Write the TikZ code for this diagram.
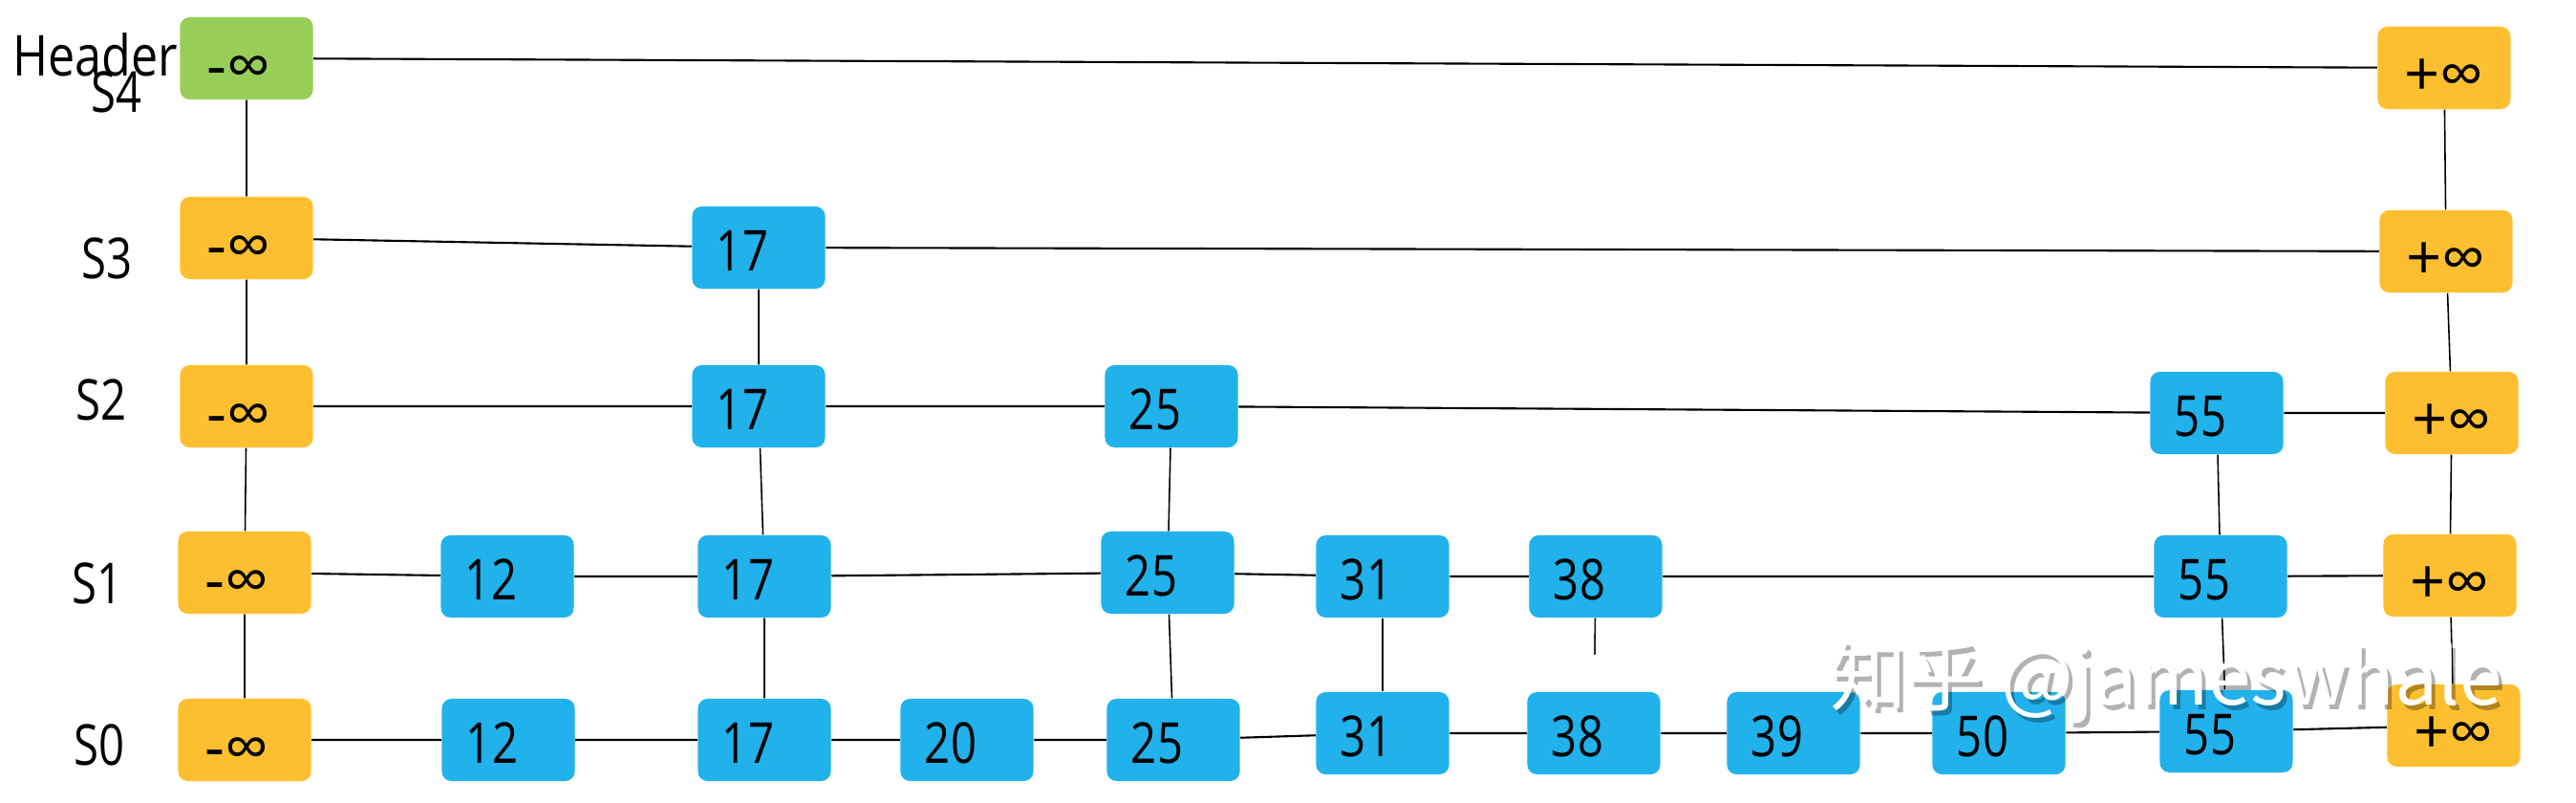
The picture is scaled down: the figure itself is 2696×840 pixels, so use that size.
\documentclass[tikz,border=0pt]{standalone}
\usepackage{fontspec}
\usepackage{graphicx}
\setmainfont{Open Sans}
\newfontfamily\cjkf{Noto Sans CJK SC}
\definecolor{cblue}{HTML}{21B1EB}
\definecolor{corange}{HTML}{FDBF2F}
\definecolor{cgreen}{HTML}{98CE58}
\newcommand\num[1]{\hspace*{-0.17cm}\raisebox{-0.03cm}{\scalebox{0.8}[1]{#1}}\hspace*{0.17cm}}
\newcommand\ninf{\hspace*{-0.08cm}\raisebox{-0.09cm}{\scalebox{1.1}{-∞}}\hspace*{0.08cm}}
\newcommand\pinf{\raisebox{-0.08cm}{\scalebox{1.1}{+∞}}}
\newcommand\lbl[1]{\scalebox{0.8}[1]{#1}}
\begin{document}
\begin{tikzpicture}[x=0.01cm,y=-0.01cm,
  box/.style={rounded corners=0.1cm, minimum width=1.39cm, minimum height=0.86cm,
    inner sep=0pt, text height=0.42cm, text depth=0pt, font=\fontsize{16.8}{20}\selectfont},
  blu/.style={box, fill=cblue},
  org/.style={box, fill=corange},
  grn/.style={box, fill=cgreen},
  hl/.style={line width=0.6pt},
  vl/.style={line width=0.45pt},
  lab/.style={anchor=base west, inner sep=0pt, font=\fontsize{16.8}{20}\selectfont},
  wm/.style={anchor=base west, inner sep=0pt, font=\cjkf\fontsize{22.8}{26}\selectfont}]
\useasboundingbox[fill=white] (0,0) rectangle (2696,840);
% labels
\node[lab] (lh) at (13,80) {\scalebox{0.85}[1]{Header}};
\node[lab] (l4) at (95,118) {\lbl{S4}};
\node[lab] (l3) at (85,292) {\lbl{S3}};
\node[lab] (l2) at (79,440) {\lbl{S2}};
\node[lab] (l1) at (75,632) {\lbl{S1}};
\node[lab] (l0) at (77,800) {\lbl{S0}};
% S4
\node[grn] (m4) at (258,61) {\ninf};
\node[org] (p4) at (2558,71) {\pinf};
% S3
\node[org] (m3) at (258,249) {\ninf};
\node[blu] (a3) at (794,259) {\num{17}};
\node[org] (p3) at (2560,263) {\pinf};
% S2
\node[org] (m2) at (258,425) {\ninf};
\node[blu] (a2) at (794,425) {\num{17}};
\node[blu] (b2) at (1226,425) {\num{25}};
\node[blu] (c2) at (2320,432) {\num{55}};
\node[org] (p2) at (2566,432) {\pinf};
% S1
\node[org] (m1) at (256,599) {\ninf};
\node[blu] (d1) at (531,603) {\num{12}};
\node[blu] (a1) at (800,603) {\num{17}};
\node[blu] (b1) at (1222,599) {\num{25}};
\node[blu] (e1) at (1447,603) {\num{31}};
\node[blu] (f1) at (1670,603) {\num{38}};
\node[blu] (c1) at (2324,603) {\num{55}};
\node[org] (p1) at (2564,602) {\pinf};
% S0
\node[org] (m0) at (256,774) {\ninf};
\node[blu] (d0) at (532,774) {\num{12}};
\node[blu] (a0) at (800,774) {\num{17}};
\node[blu] (g0) at (1012,774) {\num{20}};
\node[blu] (b0) at (1228,774) {\num{25}};
\node[blu] (e0) at (1447,767) {\num{31}};
\node[blu] (f0) at (1668,767) {\num{38}};
\node[blu] (h0) at (1877,767) {\num{39}};
\node[blu] (i0) at (2092,767) {\num{50}};
\node[blu] (c0) at (2330,765) {\num{55}};
\node[org] (p0) at (2568,759) {\pinf};
% horizontal links
\draw[hl] (m4) -- (p4);
\draw[hl] (m3) -- (a3) -- (p3);
\draw[hl] (m2) -- (a2) -- (b2) -- (c2) -- (p2);
\draw[hl] (m1) -- (d1) -- (a1) -- (b1) -- (e1) -- (f1) -- (c1) -- (p1);
\draw[hl] (m0) -- (d0) -- (a0) -- (g0) -- (b0) -- (e0) -- (f0) -- (h0) -- (i0) -- (c0) -- (p0);
% vertical links
\draw[vl] (m4) -- (m3) -- (m2) -- (m1) -- (m0);
\draw[vl] (a3) -- (a2) -- (a1) -- (a0);
\draw[vl] (b2) -- (b1) -- (b0);
\draw[vl] (e1) -- (e0);
\draw[vl, shorten >=11] (f1) -- (f0);
\draw[vl] (c2) -- (c1) -- (c0);
\draw[vl] (p4) -- (p3) -- (p2) -- (p1) -- (p0);
% watermark: translucent dark shadow under white text
\node[wm, text=black, text opacity=0.3] (wms) at (1919,742) {知乎 @jameswhale};
\node[wm, text=white] (wmk) at (1915,738) {知乎 @jameswhale};
\end{tikzpicture}
\end{document}
